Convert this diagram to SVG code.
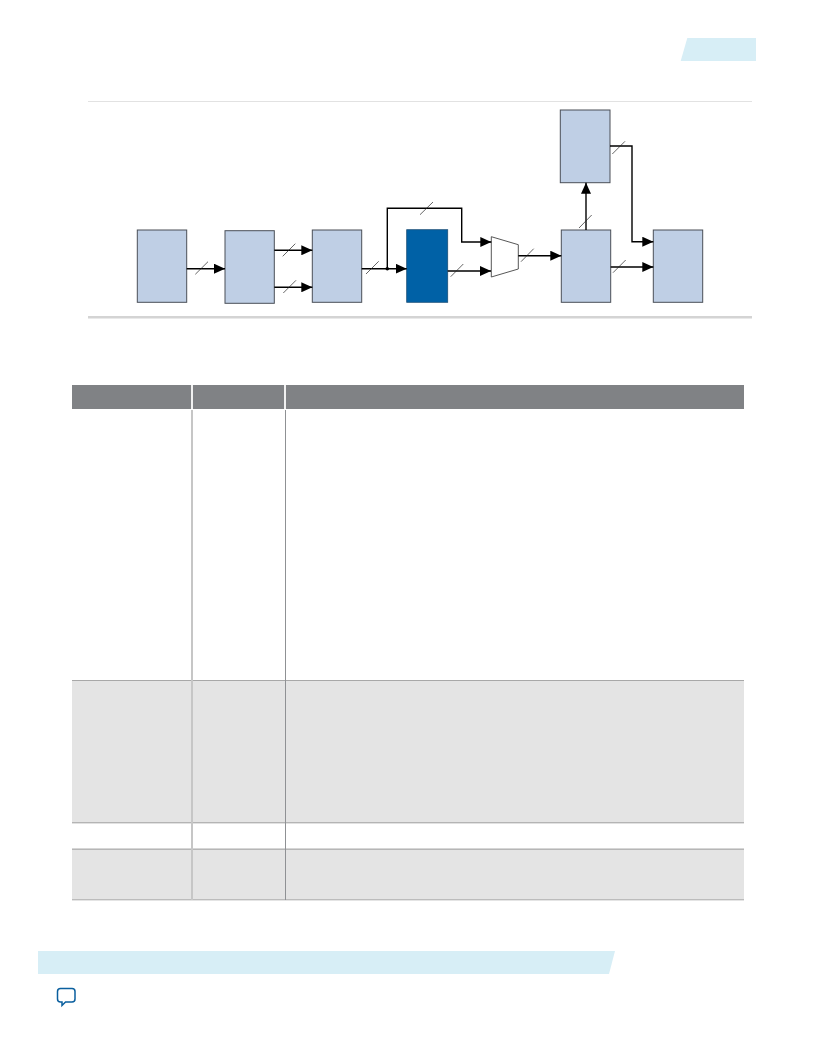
<svg xmlns="http://www.w3.org/2000/svg" width="816" height="1056" viewBox="0 0 816 1056">
<style>
.b{fill:#bfcfe5;stroke:#4a4f57;stroke-width:1}
.w{fill:none;stroke:#000;stroke-width:1.4}
.s{fill:none;stroke:#222;stroke-width:.7}
.t{fill:#d7eef6}
</style>
<defs><marker id="a" markerUnits="userSpaceOnUse" markerWidth="12" markerHeight="10" refX="11" refY="5" orient="auto"><path d="M0 0L11 5L0 10z" fill="#000"/></marker></defs>
<rect width="816" height="1056" fill="#fff"/>
<path class="t" d="M687.3 38H756V61H680.7z"/>
<rect x="88" y="101" width="664" height="1" fill="#e2e2e2"/>
<rect x="88" y="316" width="664" height="2.500" fill="#d4d4d4"/>
<g id="n1"><rect class="b" x="137.300" y="230" width="49.400" height="72.300"/></g>
<g id="n2"><rect class="b" x="225" y="230.700" width="49.300" height="72.600"/></g>
<g id="n3"><rect class="b" x="312.300" y="230" width="49.400" height="72.300"/></g>
<g id="n4"><rect x="406.700" y="229.700" width="41" height="72.600" fill="#0061a6" stroke="#1c4f78" stroke-width=".8"/></g>
<g id="n5"><path d="M491.300 236.700L518.300 244.700V269L491.300 277z" fill="#fff" stroke="#444" stroke-width=".9"/></g>
<g id="n6"><rect class="b" x="560.300" y="110" width="49.700" height="72.700"/></g>
<g id="n7"><rect class="b" x="561.300" y="230" width="49.400" height="72.300"/></g>
<g id="n8"><rect class="b" x="653.300" y="230" width="49.400" height="72.300"/></g>
<g id="connectors">
<path class="w" marker-end="url(#a)" d="M186.700 268.700H225"/>
<path class="w" marker-end="url(#a)" d="M274.300 250.300H312.300"/>
<path class="w" marker-end="url(#a)" d="M274.300 287.300H312.300"/>
<path class="w" marker-end="url(#a)" d="M361.700 268.700H406.700"/>
<circle cx="387.300" cy="268.700" r="1.800" fill="#000"/>
<path class="w" marker-end="url(#a)" d="M387.300 268.700V208.300H461.700V242H491.300"/>
<path class="w" marker-end="url(#a)" d="M447.700 271H491"/>
<path class="w" marker-end="url(#a)" d="M518.300 255.700H561.300"/>
<path class="w" marker-end="url(#a)" d="M586 230V182.700"/>
<path class="w" marker-end="url(#a)" d="M610 146H632V241.700H653.300"/>
<path class="w" marker-end="url(#a)" d="M610.700 267H653.300"/>
<path class="s" d="M195.300 274.300L208 261.700M282.700 256.300L295.300 243.700M283.300 293L296 280.300M366 274L378.700 261.300M420 214.700L433 202M450.700 276.700L463.300 264M521 261.700L533.700 248.700M579 228L591.700 215M613 272.700L625.700 260M612.300 154L625 141.300"/>
</g>
<g id="table">
<rect x="72" y="385" width="672" height="24" fill="#808285"/>
<rect x="191" y="385" width="2" height="24" fill="#f1f1f1"/>
<rect x="284" y="385" width="2" height="24" fill="#f1f1f1"/>
<rect x="72" y="680" width="672" height="143" fill="#e4e4e4"/>
<rect x="72" y="849" width="672" height="51" fill="#e4e4e4"/>
<rect x="72" y="680" width="672" height="1" fill="#a8a8a8"/>
<rect x="72" y="822" width="672" height="1.400" fill="#b4b4b4"/>
<rect x="72" y="848.600" width="672" height="1" fill="#999"/>
<rect x="72" y="899" width="672" height="1.400" fill="#bcbcbc"/>
<rect x="191" y="410" width="2" height="490" fill="#c6c6c6"/>
<rect x="285" y="410" width="1" height="490" fill="#8f9194"/>
</g>
<path class="t" d="M38 951H615L609 974H38z"/>
<g id="icon"><path d="M60.500 988.500h11.500a3 3 0 0 1 3 3v7.500a3 3 0 0 1-3 3h-6.500l-3.500 3.500v-3.500h-1.500a3 3 0 0 1-3-3v-7.500a3 3 0 0 1 3-3z" fill="#fff" stroke="#0a5f9e" stroke-width="1.500"/></g>
</svg>
